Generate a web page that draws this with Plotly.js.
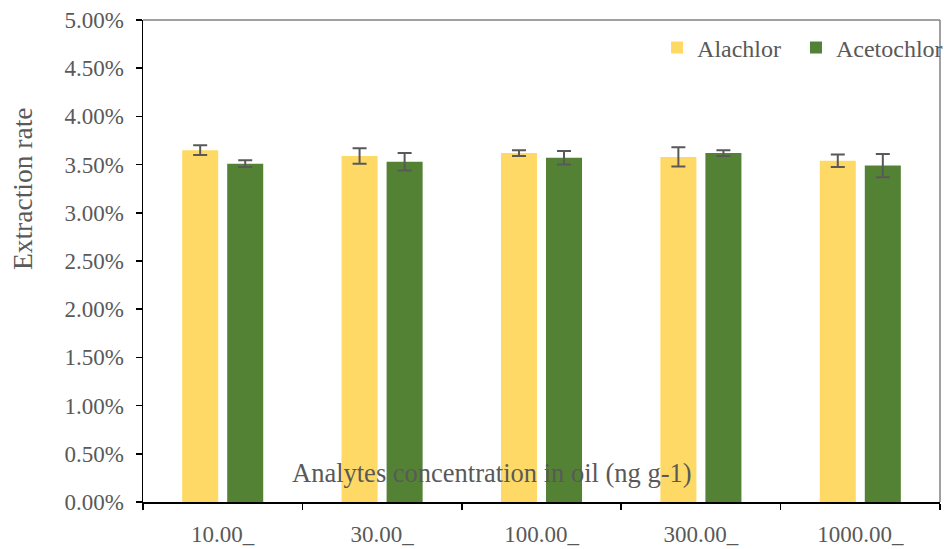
<!DOCTYPE html>
<html>
<head>
<meta charset="utf-8">
<script src="https://cdn.plot.ly/plotly-3.0.1.min.js"></script>
<style>html,body{margin:0;padding:0;background:#fff;}#chart{width:944px;height:549px;}</style>
</head>
<body>
<div id="chart"></div>
<script>
const categories = ["10.00_", "30.00_", "100.00_", "300.00_", "1000.00_"];
const alachlor = [3.65, 3.59, 3.62, 3.58, 3.54];
const alachlorErr = [0.05, 0.08, 0.03, 0.10, 0.065];
const acetochlor = [3.51, 3.53, 3.57, 3.62, 3.49];
const acetochlorErr = [0.035, 0.09, 0.07, 0.03, 0.12];
const yTicks = [0, 0.5, 1, 1.5, 2, 2.5, 3, 3.5, 4, 4.5, 5];

const font = "'Liberation Serif', serif";
const grey = "#595959";
const errStyle = {type: "data", visible: true, color: grey, thickness: 2, width: 7};

const traces = [
  {type: "bar", name: "Alachlor", x: categories, y: alachlor, legend: "legend",
   marker: {color: "#FFD966"}, error_y: Object.assign({array: alachlorErr}, errStyle)},
  {type: "bar", name: "Acetochlor", x: categories, y: acetochlor, legend: "legend2",
   marker: {color: "#548235"}, error_y: Object.assign({array: acetochlorErr}, errStyle)}
];

const legendStyle = {orientation: "h", xanchor: "left", y: 0.942, yanchor: "middle",
  font: {family: font, size: 24, color: grey}, bgcolor: "rgba(0,0,0,0)"};

const layout = {
  width: 944, height: 549,
  margin: {l: 143, r: 4, t: 20, b: 47, autoexpand: false},
  paper_bgcolor: "#fff", plot_bgcolor: "#fff",
  font: {family: font, size: 23, color: grey},
  barmode: "group", bargap: 0.435, bargroupgap: 0.2,
  showlegend: true,
  legend: Object.assign({x: 0.645}, legendStyle),
  legend2: Object.assign({x: 0.8193}, legendStyle),
  xaxis: {type: "category", showline: true, linecolor: "#000", linewidth: 1.5,
          ticks: "outside", ticklen: 6, tickcolor: "#000", tickwidth: 1.5,
          tickson: "boundaries", showgrid: false, zeroline: false,
          tickfont: {family: font, size: 23, color: grey}, ticklabelstandoff: 11},
  yaxis: {range: [0, 5], tickvals: yTicks, ticktext: yTicks.map(v => v.toFixed(2) + "%"),
          showline: true, linecolor: "#000", linewidth: 1.5,
          ticks: "outside", ticklen: 6, tickcolor: "#000", tickwidth: 1.5,
          showgrid: false, zeroline: false, ticklabelstandoff: 7,
          tickfont: {family: font, size: 23, color: grey}},
  shapes: [
    {type: "line", xref: "paper", yref: "paper", x0: 0, x1: 1, y0: 1, y1: 1, line: {color: "#808080", width: 1.5}},
    {type: "line", xref: "paper", yref: "paper", x0: 1, x1: 1, y0: 0, y1: 1, line: {color: "#808080", width: 1.5}}
  ],
  annotations: [
    {text: "Analytes concentration in oil (ng g-1)", xref: "paper", yref: "paper",
     x: 0.438, y: 0.06, xanchor: "center", yanchor: "middle", showarrow: false,
     font: {family: font, size: 26.5, color: grey}},
    {text: "Extraction rate", xref: "paper", yref: "paper",
     x: -0.152, y: 0.651, xanchor: "center", yanchor: "middle", textangle: -90, showarrow: false,
     font: {family: font, size: 27.5, color: grey}}
  ]
};

Plotly.newPlot("chart", traces, layout, {displayModeBar: false, staticPlot: true});
</script>
</body>
</html>
